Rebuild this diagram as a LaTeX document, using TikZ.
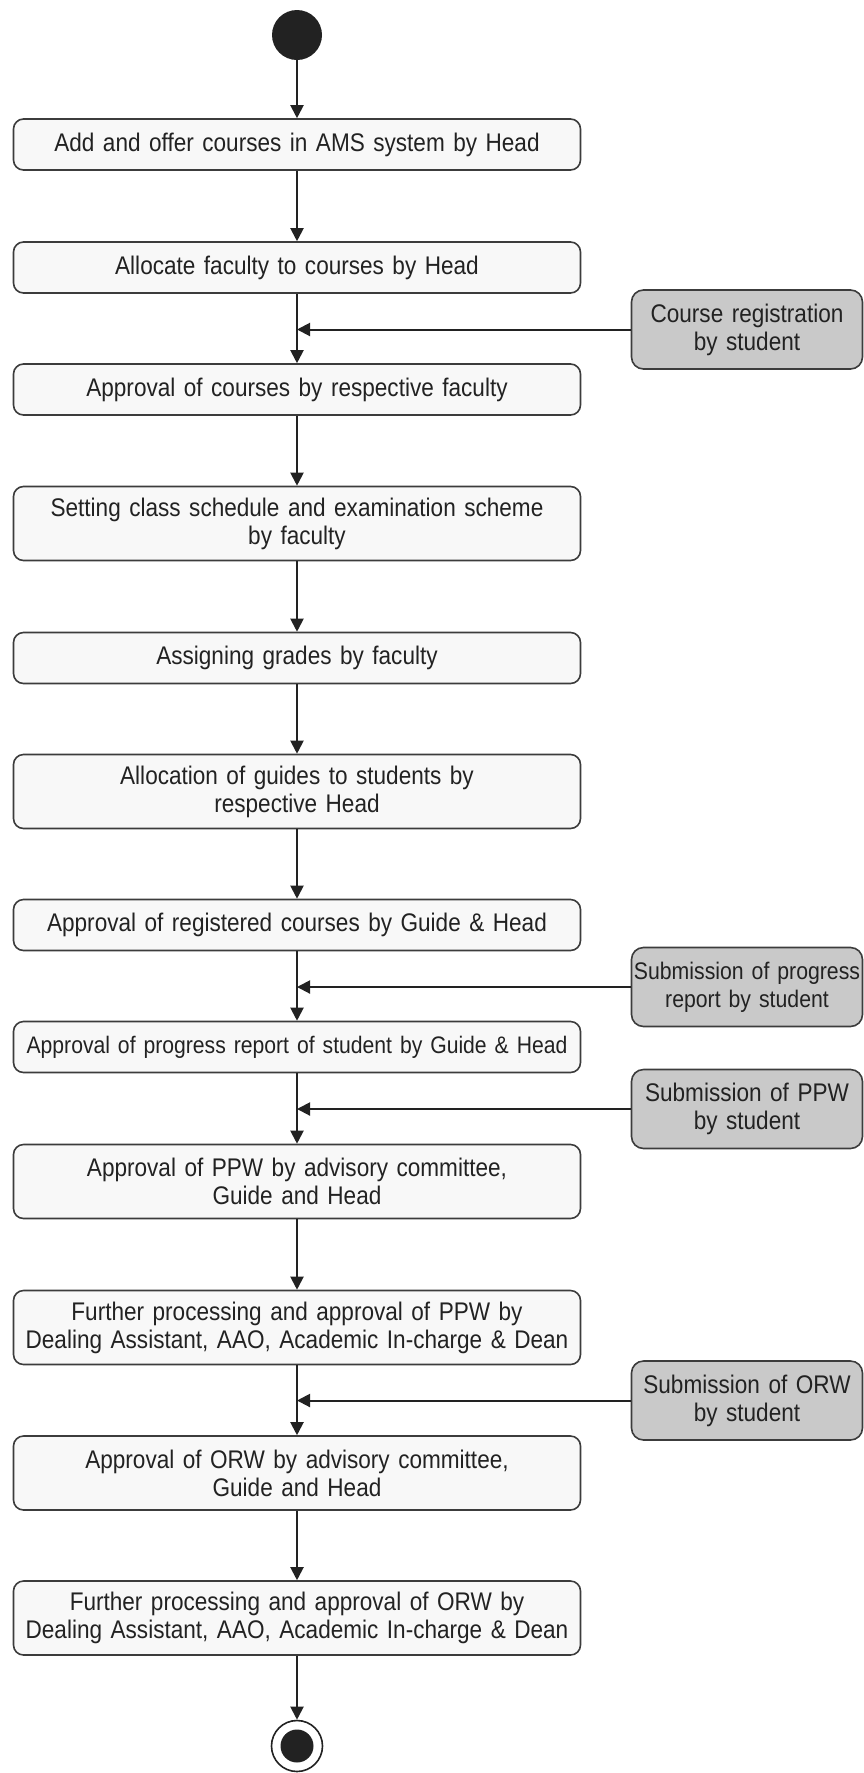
\documentclass[tikz,border=0pt]{standalone}
\usepackage{fontspec}
\setmainfont{Liberation Sans}[FakeStretch=0.885]
\usepackage{tikz}
\usetikzlibrary{arrows.meta}
\definecolor{boxfill}{HTML}{F8F8F8}
\definecolor{inputfill}{HTML}{C9C9C9}
\definecolor{linegray}{HTML}{3C3C3C}
\definecolor{inkgray}{HTML}{222222}
\tikzstyle{activity} = [rectangle, rounded corners=10pt, minimum width=567pt, minimum height=51pt, text width=566pt, align=center, inner sep=0pt, draw=linegray, line width=1.6pt, fill=boxfill, text=inkgray, font=\fontsize{25.5}{28}\selectfont]
\tikzstyle{twoline} = [minimum height=74pt]
\tikzstyle{input} = [rectangle, rounded corners=12pt, minimum width=231pt, minimum height=79pt, text width=230pt, align=center, inner sep=0pt, draw=linegray, line width=1.6pt, fill=inputfill, text=inkgray, font=\fontsize{25.5}{28}\selectfont]
\tikzstyle{arrow} = [line width=2pt, draw=inkgray, -{Triangle[length=13pt,width=13pt]}]

\begin{document}
\begin{tikzpicture}[x=1pt,y=-1pt]
      \useasboundingbox (0,0) rectangle (863,1773);
      % start / end
      \node (start) at (297,35) [circle, fill=inkgray, minimum size=50pt, inner sep=0pt] {};
      \node (stop) at (297,1746) [circle, draw=inkgray, line width=1.6pt, minimum size=51pt, inner sep=0pt] {};
      \node (stopdot) at (297,1746) [circle, fill=inkgray, minimum size=33pt, inner sep=0pt] {};
      % activities
      \node (act1) at (297,144.5) [activity] {Add and offer courses in AMS system by Head};
      \node (act2) at (297,267.5) [activity] {Allocate faculty to courses by Head};
      \node (act3) at (297,389.5) [activity] {Approval of courses by respective faculty};
      \node (act4) at (297,523.5) [activity, twoline] {Setting class schedule and examination scheme\\by faculty};
      \node (act5) at (297,658) [activity] {Assigning grades by faculty};
      \node (act6) at (297,791.5) [activity, twoline] {Allocation of guides to students by\\respective Head};
      \node (act7) at (297,925) [activity] {Approval of registered courses by Guide \& Head};
      \node (act8) at (297,1047) [activity, font=\fontsize{23.9}{28}\selectfont] {Approval of progress report of student by Guide \& Head};
      \node (act9) at (297,1181.5) [activity, twoline] {Approval of PPW by advisory committee,\\Guide and Head};
      \node (act10) at (297,1327.5) [activity, twoline] {Further processing and approval of PPW by\\Dealing Assistant, AAO, Academic In-charge \& Dean};
      \node (act11) at (297,1473) [activity, twoline] {Approval of ORW by advisory committee,\\Guide and Head};
      \node (act12) at (297,1618) [activity, twoline] {Further processing and approval of ORW by\\Dealing Assistant, AAO, Academic In-charge \& Dean};
      % student inputs
      \node (reg) at (747,329.5) [input] {Course registration\\by student};
      \node (subprog) at (747,987) [input, font=\fontsize{24}{28}\selectfont] {Submission of progress\\report by student};
      \node (subppw) at (747,1109) [input] {Submission of PPW\\by student};
      \node (suborw) at (747,1400.5) [input] {Submission of ORW\\by student};
      \coordinate (j1) at (297,329.5);
      \coordinate (j2) at (297,987);
      \coordinate (j3) at (297,1109);
      \coordinate (j4) at (297,1400.5);
      % flow
      \draw[arrow] (start)--(act1);
      \draw[arrow] (act1)--(act2);
      \draw[arrow] (act2)--(act3);
      \draw[arrow] (act3)--(act4);
      \draw[arrow] (act4)--(act5);
      \draw[arrow] (act5)--(act6);
      \draw[arrow] (act6)--(act7);
      \draw[arrow] (act7)--(act8);
      \draw[arrow] (act8)--(act9);
      \draw[arrow] (act9)--(act10);
      \draw[arrow] (act10)--(act11);
      \draw[arrow] (act11)--(act12);
      \draw[arrow] (act12)--(stop);
      \draw[arrow] (reg)--(j1);
      \draw[arrow] (subprog)--(j2);
      \draw[arrow] (subppw)--(j3);
      \draw[arrow] (suborw)--(j4);
\end{tikzpicture}
\end{document}
